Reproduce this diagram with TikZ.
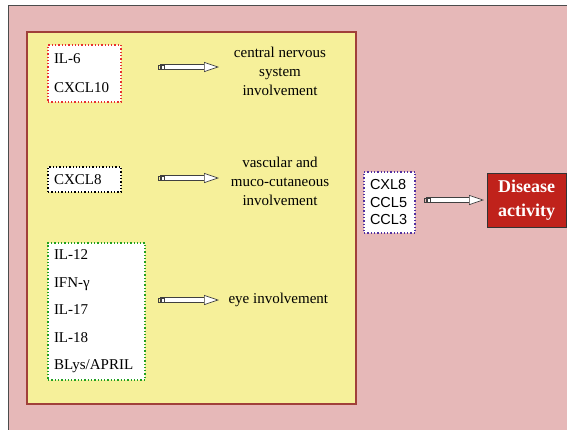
\documentclass[tikz,border=0pt]{standalone}
\usepackage{fontspec}
\setmainfont{Liberation Serif}
\setsansfont{Liberation Sans}
\usetikzlibrary{arrows.meta}
\definecolor{outerpink}{HTML}{E6B8B8}
\definecolor{panelyellow}{HTML}{F6F09A}
\definecolor{panelrim}{HTML}{A0403A}
\definecolor{diseasered}{HTML}{C0221B}
\definecolor{dotred}{HTML}{E83030}
\definecolor{dotgreen}{HTML}{20A020}
\definecolor{dotpurple}{HTML}{5030A0}
\begin{document}
\begin{tikzpicture}[x=1pt,y=-1pt,
    list/.style={dotted, line width=1.3pt, fill=white, inner xsep=6pt, inner ysep=0pt, align=left,
      font=\fontsize{15}{19}\selectfont},
    effect/.style={align=center, font=\fontsize{15}{19}\selectfont},
    hollow/.style={draw=black!75, line width=0.7pt, double=white, double distance=3.8pt,
      {Square[open,length=3pt,width=5pt,sep=0.6pt]Square[open,length=3pt,width=5pt,sep=0.6pt]}-{Triangle[open,fill=white,length=15pt,width=10pt]}}]
    \useasboundingbox (0,0) rectangle (567,429);
    % background panels
    \draw[fill=outerpink, draw=black!70, line width=1pt] (8,5) rectangle (580,440);
    \draw[fill=panelyellow, draw=panelrim, line width=1.5pt] (27,32) rectangle (356,404);

    \node[list, draw=dotred, text width=61pt, minimum height=57pt] (il6) at (84.5,73.5) {IL-6\\[10pt]CXCL10};
    \node[list, draw=black, text width=61pt, minimum height=25pt] (cxcl8) at (84.5,179.5) {CXCL8};
    \node[list, draw=dotgreen, text width=85pt, minimum height=137pt] (il12) at (96.5,311.5)
      {IL-12\\[8.5pt]IFN-γ\\[8.5pt]IL-17\\[8.5pt]IL-18\\[8.5pt]BLys/APRIL};
    \node[list, draw=dotpurple, text width=39pt, inner xsep=6pt, minimum height=61pt,
      font=\sffamily\fontsize{14.5}{17.5}\selectfont] (ccl) at (389.5,202.5) {CXL8\\CCL5\\CCL3};
    \node[draw=black!80, fill=diseasered, text=white, align=center, minimum width=79pt, minimum height=54pt,
      inner sep=0pt, font=\bfseries\fontsize{18}{24}\selectfont] (disease) at (526.5,200) {Disease\\activity};

    \node[effect] (cns) at (280,71) {central nervous\\system\\involvement};
    \node[effect] (vasc) at (280,181) {vascular and\\muco-cutaneous\\involvement};
    \node[effect, anchor=west] (eye) at (225,300) {eye involvement};

    \coordinate (t1) at (157,67);  \coordinate (h1) at (219,67);
    \coordinate (t2) at (157,178); \coordinate (h2) at (219,178);
    \coordinate (t3) at (157,300); \coordinate (h3) at (219,300);
    \coordinate (t4) at (423,200); \coordinate (h4) at (484,200);
    \draw[hollow] (t1) -- (h1);
    \draw[hollow] (t2) -- (h2);
    \draw[hollow] (t3) -- (h3);
    \draw[hollow] (t4) -- (h4);
\end{tikzpicture}
\end{document}
